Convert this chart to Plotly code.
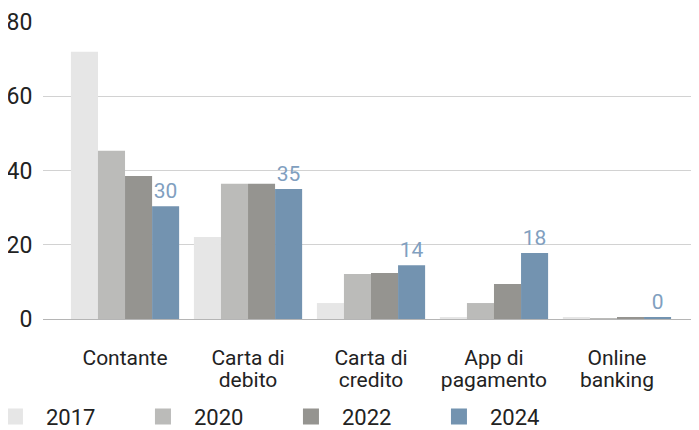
import plotly.graph_objects as go

categories = ["Contante", "Carta di\ndebito", "Carta di\ncredito", "App di\npagamento", "Online\nbanking"]
years = ["2017", "2020", "2022", "2024"]
v2017 = [72, 22.1, 4.3, 0.3, 0.3]
v2020 = [45.3, 36.4, 12.1, 4.3, 0.2]
v2022 = [38.5, 36.4, 12.4, 9.4, 0.3]
v2024 = [30.4, 35.0, 14.5, 17.8, 0.4]
labels2024 = ["30", "35", "14", "18", "0"]
colors = ["#e6e6e6", "#bbbbb9", "#959490", "#7393b0"]

FONT = "Roboto, Arial"
xs = list(range(len(categories)))
line1 = [c.split("\n")[0] for c in categories]
line2 = [c.split("\n")[1] if "\n" in c else "" for c in categories]

fig = go.Figure()
for name, vals, col in zip(years, [v2017, v2020, v2022, v2024], colors):
    kw = {}
    if name == "2024":
        kw = dict(text=labels2024, textposition="outside", texttemplate="%{text}",
                  textfont=dict(color="#819fbf", size=21, family=FONT), cliponaxis=False)
    fig.add_trace(go.Bar(x=xs, y=vals, name=name, showlegend=False,
                         marker=dict(color=col, line=dict(width=0)), **kw))
# legend entries (square swatches)
for name, col in zip(years, colors):
    fig.add_trace(go.Scatter(x=[None], y=[None], mode="markers", name=name,
                             marker=dict(symbol="square", size=16, color=col),
                             xaxis="x2", showlegend=True))

fig.update_layout(
    width=691, height=430,
    margin=dict(l=35, r=0, t=14, b=119, autoexpand=False),
    paper_bgcolor="white", plot_bgcolor="white",
    barmode="group", bargap=0.12, bargroupgap=0,
    font=dict(family=FONT, color="#222222", size=18),
    showlegend=True,
    legend=dict(orientation="h", x=-0.09, xanchor="left", y=-0.258, yanchor="top",
                font=dict(size=22, family=FONT, color="#222222"),
                itemwidth=52,
                entrywidth=81, entrywidthmode="pixels", traceorder="normal"),
    xaxis=dict(tickmode="array", tickvals=xs, ticktext=line1,
               range=[-0.667, 4.667], showgrid=False, zeroline=False, showline=False,
               ticks="outside", ticklen=20, tickcolor="rgba(0,0,0,0)", automargin=False,
               tickfont=dict(size=21, family=FONT, color="#222222")),
    xaxis2=dict(tickmode="array", tickvals=xs, ticktext=line2, overlaying="x", matches="x",
                anchor="y", side="bottom",
                range=[-0.667, 4.667], showgrid=False, zeroline=False, showline=False,
                ticks="outside", ticklen=42, tickcolor="rgba(0,0,0,0)", automargin=False,
                tickfont=dict(size=21, family=FONT, color="#222222")),
    yaxis=dict(range=[0, 80], tickvals=[0, 20, 40, 60, 80], showgrid=True,
               gridcolor="#d2d2d2", gridwidth=1.3, zeroline=True, zerolinecolor="#b5b5b5",
               zerolinewidth=1.3, showline=False, ticks="outside", ticklen=5,
               tickcolor="rgba(0,0,0,0)", automargin=False,
               tickfont=dict(size=23, family=FONT, color="#222222")),
)

fig.write_html("out.html")
